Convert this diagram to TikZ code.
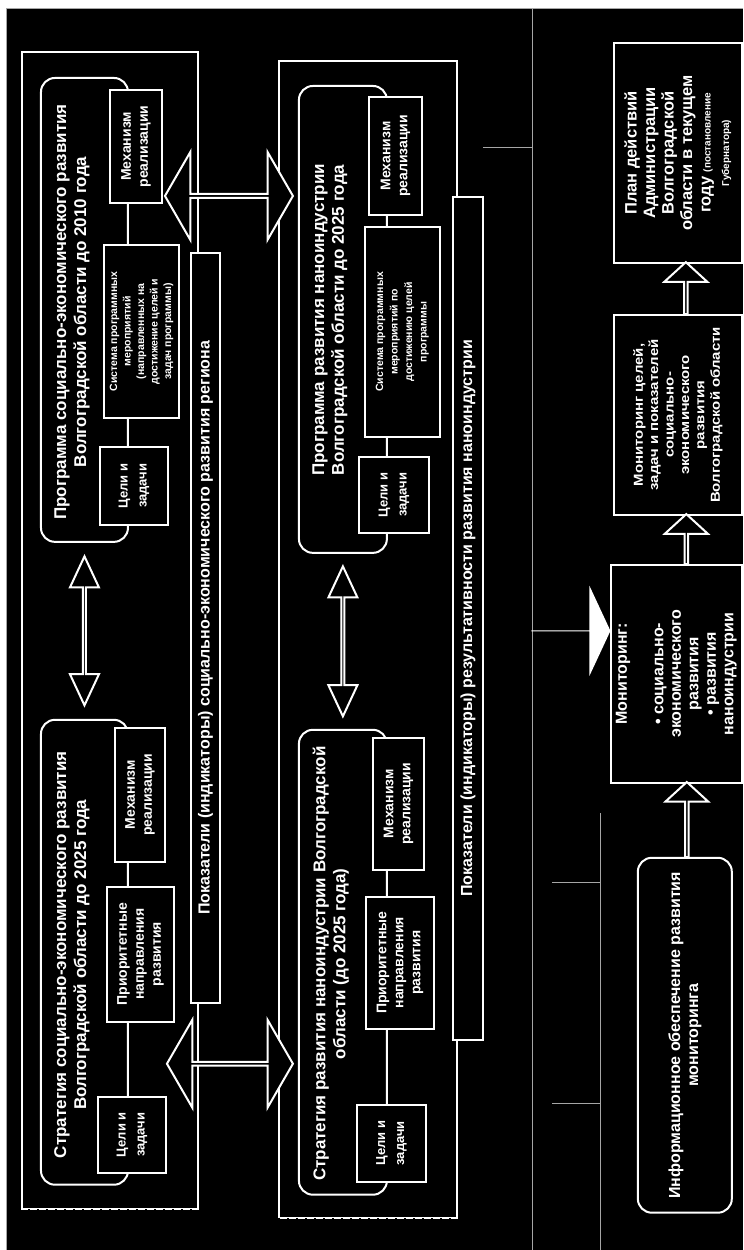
\documentclass[tikz,border=0pt]{standalone}
\usepackage{fontspec}
\setmainfont{Liberation Sans}
\newfontfamily\widefont{Liberation Sans}[FakeStretch=1.15]
\usetikzlibrary{shapes.arrows, positioning}

\begin{document}
\begin{tikzpicture}[x=1pt, y=1pt, rotate=90, transform shape,
    column/.style={rectangle, draw=white, line width=1.4pt, fill=black, inner sep=0pt},
    prog/.style={rectangle, draw=white, line width=2pt, fill=black, rounded corners=14pt, inner sep=0pt},
    heading/.style={text=white, align=center, inner sep=0pt, font=\fontsize{17}{20}\selectfont\bfseries},
    box/.style={rectangle, draw=white, line width=2pt, fill=black, text=white, align=center, inner sep=1pt, font=\fontsize{14}{17}\selectfont\bfseries},
    goal/.style={box, font=\fontsize{13}{19}\selectfont\bfseries},
    measures/.style={box, font=\fontsize{10.5}{13.5}\selectfont\bfseries},
    indic/.style={box, line width=1.6pt, font=\fontsize{16}{18}\selectfont\bfseries},
    twoway/.style={double arrow, draw=white, line width=2pt, fill=black, inner sep=0pt, minimum width=29pt, double arrow head extend=8.5pt, double arrow tip angle=50},
    bridge/.style={double arrow, draw=white, line width=2pt, fill=black, inner sep=0pt, minimum width=88pt, double arrow head extend=21.5pt, double arrow tip angle=120},
    upward/.style={single arrow, draw=white, line width=2pt, fill=black, inner sep=0pt, minimum width=43pt, single arrow head extend=11.5pt, single arrow tip angle=95},
    inflow/.style={single arrow, fill=white, inner sep=0pt, minimum width=90pt, single arrow head extend=21pt, single arrow tip angle=130},
    gridline/.style={draw=gray!70, line width=0.6pt},
    dashedge/.style={draw=white, line width=1.4pt, dash pattern=on 7pt off 2pt}
]

% Page and table rulings
\fill[white] (0,0) rectangle (1250,743);
\fill[black] (0,0) rectangle (1242,737);
\draw[gridline] (0,737) -- (1242,737) -- (1242,0);
\draw[gridline] (0,211) -- (1242,211);
\draw[gridline] (0,143) -- (437,143);
\draw[gridline] (146,143) -- (146,191);
\draw[gridline] (367,143) -- (367,191);
\draw[gridline] (1103,211) -- (1103,260);

% Outer frames of both rows
\node[column, minimum width=1157pt, minimum height=176pt] (socframe) at (619.5,633) {};
\node[column, minimum width=1157pt, minimum height=178pt] (nanoframe) at (610.5,375) {};
\draw[black, line width=1.6pt] (socframe.south west) -- (socframe.north west);
\draw[dashedge] (socframe.south west) -- (socframe.north west);
\draw[black, line width=1.6pt] (nanoframe.south west) -- (nanoframe.north west);
\draw[dashedge] (nanoframe.south west) -- (nanoframe.north west);

% Indicator bars
\node[indic, minimum width=750pt, minimum height=29pt] (socind) at (622,537.5) {Показатели (индикаторы) социально-экономического развития региона};
\node[indic, minimum width=843pt, minimum height=30pt] (nanoind) at (631.5,275) {Показатели (индикаторы) результативности развития наноиндустрии};

% Regional strategy and programme
\node[prog, minimum width=465pt, minimum height=87pt] (socstrat) at (297.5,658.5) {};
\node[prog, minimum width=464pt, minimum height=87pt] (socprog) at (940,658.5) {};
\node[heading] (socstrat_t) at (295,671) {Стратегия социально-экономического развития\\Волгоградской области до 2025 года};
\node[heading] (socprog_t) at (938,671) {Программа социально-экономического развития\\Волгоградской области до 2010 года};

\node[goal, minimum width=76pt, minimum height=68pt] (socstrat_goal) at (115,611) {Цели и\\задачи};
\node[box, minimum width=135pt, minimum height=67pt] (socstrat_prio) at (295.5,602.5) {Приоритетные\\направления\\развития};
\node[box, minimum width=134pt, minimum height=50pt] (socstrat_mech) at (455,603) {Механизм\\реализации};

\node[goal, minimum width=78pt, minimum height=68pt] (socprog_goal) at (764,609) {Цели и\\задачи};
\node[measures, minimum width=173pt, minimum height=75pt] (socprog_sys) at (918.5,601.5) {Система программных\\мероприятий\\(направленных на\\достижение целей и\\задач программы)};
\node[box, minimum width=113pt, minimum height=52pt] (socprog_mech) at (1103.5,607) {Механизм\\реализации};

% Nanoindustry strategy and programme
\node[prog, minimum width=465pt, minimum height=88pt] (nanostrat) at (287.5,400) {};
\node[prog, minimum width=467pt, minimum height=88pt] (nanoprog) at (930.5,400) {};
\node[heading] (nanostrat_t) at (286,412) {Стратегия развития наноиндустрии Волгоградской\\области (до 2025 года)};
\node[heading] (nanoprog_t) at (930,413) {Программа развития наноиндустрии\\Волгоградской области до 2025 года};

\node[goal, minimum width=77pt, minimum height=69pt] (nanostrat_goal) at (106.5,351.5) {Цели и\\задачи};
\node[box, minimum width=132pt, minimum height=68pt] (nanostrat_prio) at (287,343) {Приоритетные\\направления\\развития};
\node[box, minimum width=132pt, minimum height=51pt] (nanostrat_mech) at (446,344.5) {Механизм\\реализации};

\node[goal, minimum width=76pt, minimum height=70pt] (nanoprog_goal) at (755,349) {Цели и\\задачи};
\node[measures, font=\fontsize{10.5}{14.5}\selectfont\bfseries, minimum width=210pt, minimum height=75pt] (nanoprog_sys) at (918,340.5) {Система программных\\мероприятий по\\достижению целей\\программы};
\node[box, minimum width=118pt, minimum height=53pt] (nanoprog_mech) at (1094,347.5) {Механизм\\реализации};

% Links inside and between rows
\path (socstrat) -- (socprog) node[midway, twoway, minimum height=149pt] (socarrow) {};
\path (nanostrat) -- (nanoprog) node[midway, twoway, minimum height=150pt] (nanoarrow) {};
\node[bridge, minimum height=128pt, rotate=90] (topbridge) at (1054,514) {};
\node[bridge, minimum height=126pt, rotate=90] (botbridge) at (186,513) {};

% Monitoring chain
\node[box, minimum width=220pt, minimum height=128pt, font=\fontsize{16.5}{18.5}\selectfont\bfseries] (plan) at (1097,65) {План действий\\Администрации\\Волгоградской\\области в текущем\\году {\fontsize{10}{12}\selectfont (постановление}\\{\fontsize{10}{12}\selectfont Губернатора)}};
\node[box, minimum width=200pt, minimum height=128pt, font=\widefont\fontsize{13}{15.4}\selectfont\bfseries] (review) at (835,65) {Мониторинг целей,\\задач и показателей\\социально-\\экономического\\развития\\Волгоградской области};
\node[box, minimum width=218pt, minimum height=131pt, font=\fontsize{16}{17.5}\selectfont\bfseries] (monitor) at (576,66.5) {Мониторинг:\\[19pt]\textbullet\ социально-\\экономического\\развития\\\textbullet\ развития\\наноиндустрии};
\node[box, rounded corners=14pt, minimum width=355pt, minimum height=94pt, font=\fontsize{16}{18}\selectfont\bfseries] (infobox) at (214.5,58) {Информационное обеспечение развития\\мониторинга};

\path ([yshift=-2pt]infobox.east) -- ([yshift=-2pt]infobox.east -| monitor.west) node[midway, upward, minimum height=75pt] (infoarrow) {};
\path ([yshift=-10pt]monitor.east) -- ([yshift=-10pt]monitor.east -| review.west) node[midway, upward, minimum height=50pt] (monarrow) {};
\path ([yshift=-8pt]review.east) -- ([yshift=-8pt]review.east -| plan.west) node[midway, upward, minimum height=52pt] (planarrow) {};

\coordinate (source) at (619,211);
\path (source) -- (source |- monitor.north) node[midway, inflow, minimum height=79pt, rotate=-90] (feedarrow) {};

\end{tikzpicture}
\end{document}
